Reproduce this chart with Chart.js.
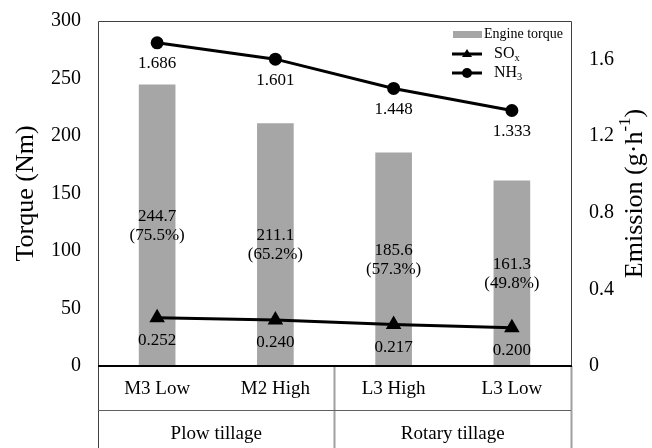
<!DOCTYPE html>
<html>
<head>
<meta charset="utf-8">
<script src="https://cdn.jsdelivr.net/npm/chart.js@4.4.0/dist/chart.umd.min.js"></script>
<style>
  body { margin: 0; background: #fff; }
  #chart { display: block; }
</style>
</head>
<body>
<canvas id="chart" width="652" height="448"></canvas>
<script>
const categories = ['M3 Low', 'M2 High', 'L3 High', 'L3 Low'];
const groupNames = ['Plow tillage', 'Rotary tillage'];
const groupSpans = [[0, 1], [2, 3]];
const torque = [244.7, 211.1, 185.6, 161.3];
const torqueShare = ['75.5%', '65.2%', '57.3%', '49.8%'];
const sox = [0.252, 0.240, 0.217, 0.200];
const nh3 = [1.686, 1.601, 1.448, 1.333];
const torqueTicks = [0, 50, 100, 150, 200, 250, 300];
const emissionTicks = [0, 0.4, 0.8, 1.2, 1.6];

const SERIF = '"Liberation Serif", "Times New Roman", serif';

// draws text pieces with sub/superscripts, returns total width
const drawRich = (ctx, parts, x, y, size, measureOnly) => {
    let w = 0;
    parts.forEach(p => {
        const s = p.sub || p.sup ? size * 0.65 : size;
        ctx.font = `${s}px ${SERIF}`;
        const dy = p.sub ? size * 0.28 : p.sup ? -size * 0.38 : 0;
        if (!measureOnly) ctx.fillText(p.t, x + w, y + dy);
        w += ctx.measureText(p.t).width;
    });
    return w;
};

const decorations = {
    id: 'decorations',
    afterDatasetsDraw(chart) {
        const { ctx, chartArea: a, scales } = chart;
        const x = scales.x;
        const bottom = chart.height;
        ctx.save();

        // frame
        ctx.strokeStyle = '#404040';
        ctx.lineWidth = 1;
        ctx.beginPath();
        ctx.moveTo(a.left + 0.5, bottom);
        ctx.lineTo(a.left + 0.5, a.top + 0.5);
        ctx.lineTo(a.right + 0.5, a.top + 0.5);
        ctx.lineTo(a.right + 0.5, a.bottom);
        ctx.stroke();
        ctx.strokeStyle = '#a0a0a0';
        ctx.lineWidth = 2;
        ctx.beginPath();
        ctx.moveTo(a.right + 0.5, a.bottom);
        ctx.lineTo(a.right + 0.5, bottom);
        const mid = (x.getPixelForValue(1) + x.getPixelForValue(2)) / 2;
        ctx.moveTo(mid, a.bottom);
        ctx.lineTo(mid, bottom);
        ctx.stroke();
        ctx.strokeStyle = '#606060';
        ctx.lineWidth = 1;
        ctx.beginPath();
        ctx.moveTo(a.left, 410.5);
        ctx.lineTo(a.right, 410.5);
        ctx.stroke();
        ctx.strokeStyle = '#000';
        ctx.lineWidth = 2;
        ctx.beginPath();
        ctx.moveTo(a.left, a.bottom);
        ctx.lineTo(a.right + 1, a.bottom);
        ctx.stroke();

        // category rows
        ctx.fillStyle = '#000';
        ctx.textAlign = 'center';
        ctx.textBaseline = 'middle';
        ctx.font = `19px ${SERIF}`;
        categories.forEach((c, i) => ctx.fillText(c, x.getPixelForValue(i), 389));
        groupNames.forEach((g, k) => {
            const [s, e] = groupSpans[k];
            const left = s === 0 ? a.left : (x.getPixelForValue(s - 1) + x.getPixelForValue(s)) / 2;
            const right = e === categories.length - 1 ? a.right : (x.getPixelForValue(e) + x.getPixelForValue(e + 1)) / 2;
            ctx.fillText(g, (left + right) / 2, 434);
        });

        // value labels
        ctx.font = `17px ${SERIF}`;
        chart.getDatasetMeta(0).data.forEach((bar, i) => {
            const cy = (bar.y + bar.base) / 2;
            ctx.fillText(torque[i].toFixed(1), bar.x, cy - 9);
            ctx.fillText('(' + torqueShare[i] + ')', bar.x, cy + 10);
        });
        chart.getDatasetMeta(1).data.forEach((pt, i) => {
            ctx.fillText(sox[i].toFixed(3), pt.x, pt.y + 23);
        });
        chart.getDatasetMeta(2).data.forEach((pt, i) => {
            ctx.fillText(nh3[i].toFixed(3), pt.x, pt.y + 21);
        });

        // axis titles
        ctx.textAlign = 'left';
        ctx.save();
        ctx.translate(26, (a.top + a.bottom) / 2);
        ctx.rotate(-Math.PI / 2);
        const lt = [{ t: 'Torque (Nm)' }];
        const lw = drawRich(ctx, lt, 0, 0, 26, true);
        drawRich(ctx, lt, -lw / 2, 0, 26);
        ctx.restore();
        ctx.save();
        ctx.translate(635, (a.top + a.bottom) / 2);
        ctx.rotate(-Math.PI / 2);
        const rt = [{ t: 'Emission (g\u00b7h' }, { t: '-1', sup: true }, { t: ')' }];
        const rw = drawRich(ctx, rt, 0, 0, 26, true);
        drawRich(ctx, rt, -rw / 2, 0, 26);
        ctx.restore();

        // legend
        ctx.fillStyle = '#a6a6a6';
        ctx.fillRect(453, 31, 29, 7);
        ctx.strokeStyle = '#000';
        ctx.lineWidth = 3;
        ctx.beginPath();
        ctx.moveTo(452, 54);
        ctx.lineTo(482, 54);
        ctx.moveTo(452, 73);
        ctx.lineTo(482, 73);
        ctx.stroke();
        ctx.fillStyle = '#000';
        ctx.beginPath();
        ctx.moveTo(467, 49);
        ctx.lineTo(472, 57);
        ctx.lineTo(462, 57);
        ctx.closePath();
        ctx.fill();
        ctx.beginPath();
        ctx.arc(467, 73, 5, 0, Math.PI * 2);
        ctx.fill();
        ctx.font = `14px ${SERIF}`;
        ctx.fillText('Engine torque', 484, 34);
        drawRich(ctx, [{ t: 'SO' }, { t: 'x', sub: true }], 494, 54, 16);
        drawRich(ctx, [{ t: 'NH' }, { t: '3', sub: true }], 494, 73, 16);

        ctx.restore();
    }
};

new Chart(document.getElementById('chart'), {
    data: {
        labels: categories,
        datasets: [
            {
                type: 'bar',
                label: 'Engine torque',
                data: torque,
                yAxisID: 'y',
                backgroundColor: '#a6a6a6',
                barPercentage: 0.31,
                categoryPercentage: 1,
                order: 2
            },
            {
                type: 'line',
                label: 'SOx',
                data: sox,
                yAxisID: 'y1',
                borderColor: '#000',
                backgroundColor: '#000',
                borderWidth: 3,
                pointStyle: 'triangle',
                pointRadius: 6,
                pointBackgroundColor: '#000',
                order: 1
            },
            {
                type: 'line',
                label: 'NH3',
                data: nh3,
                yAxisID: 'y1',
                borderColor: '#000',
                backgroundColor: '#000',
                borderWidth: 3,
                pointStyle: 'circle',
                pointRadius: 5,
                pointBackgroundColor: '#000',
                order: 0
            }
        ]
    },
    options: {
        responsive: false,
        animation: false,
        layout: { padding: { top: 21, left: 0, right: 0, bottom: 0 } },
        plugins: { legend: { display: false }, tooltip: { enabled: false } },
        scales: {
            x: {
                grid: { display: false, drawTicks: false },
                border: { display: false },
                ticks: { display: false },
                afterFit: s => { s.height = 82; }
            },
            y: {
                position: 'left',
                min: 0,
                max: 300,
                grid: { display: false, drawTicks: false },
                border: { display: false },
                afterBuildTicks: s => { s.ticks = torqueTicks.map(v => ({ value: v })); },
                ticks: { padding: 17, color: '#000', font: { family: SERIF, size: 20 } },
                afterFit: s => { s.width = 98; s.paddingTop = 0; s.paddingBottom = 0; }
            },
            y1: {
                position: 'right',
                min: 0,
                max: 1.8,
                grid: { display: false, drawTicks: false },
                border: { display: false },
                afterBuildTicks: s => { s.ticks = emissionTicks.map(v => ({ value: v })); },
                ticks: {
                    padding: 18,
                    color: '#000',
                    font: { family: SERIF, size: 20 },
                    callback: v => v === 0 ? '0' : v.toFixed(1)
                },
                afterFit: s => { s.width = 81; s.paddingTop = 0; s.paddingBottom = 0; }
            }
        }
    },
    plugins: [decorations]
});
</script>
</body>
</html>
